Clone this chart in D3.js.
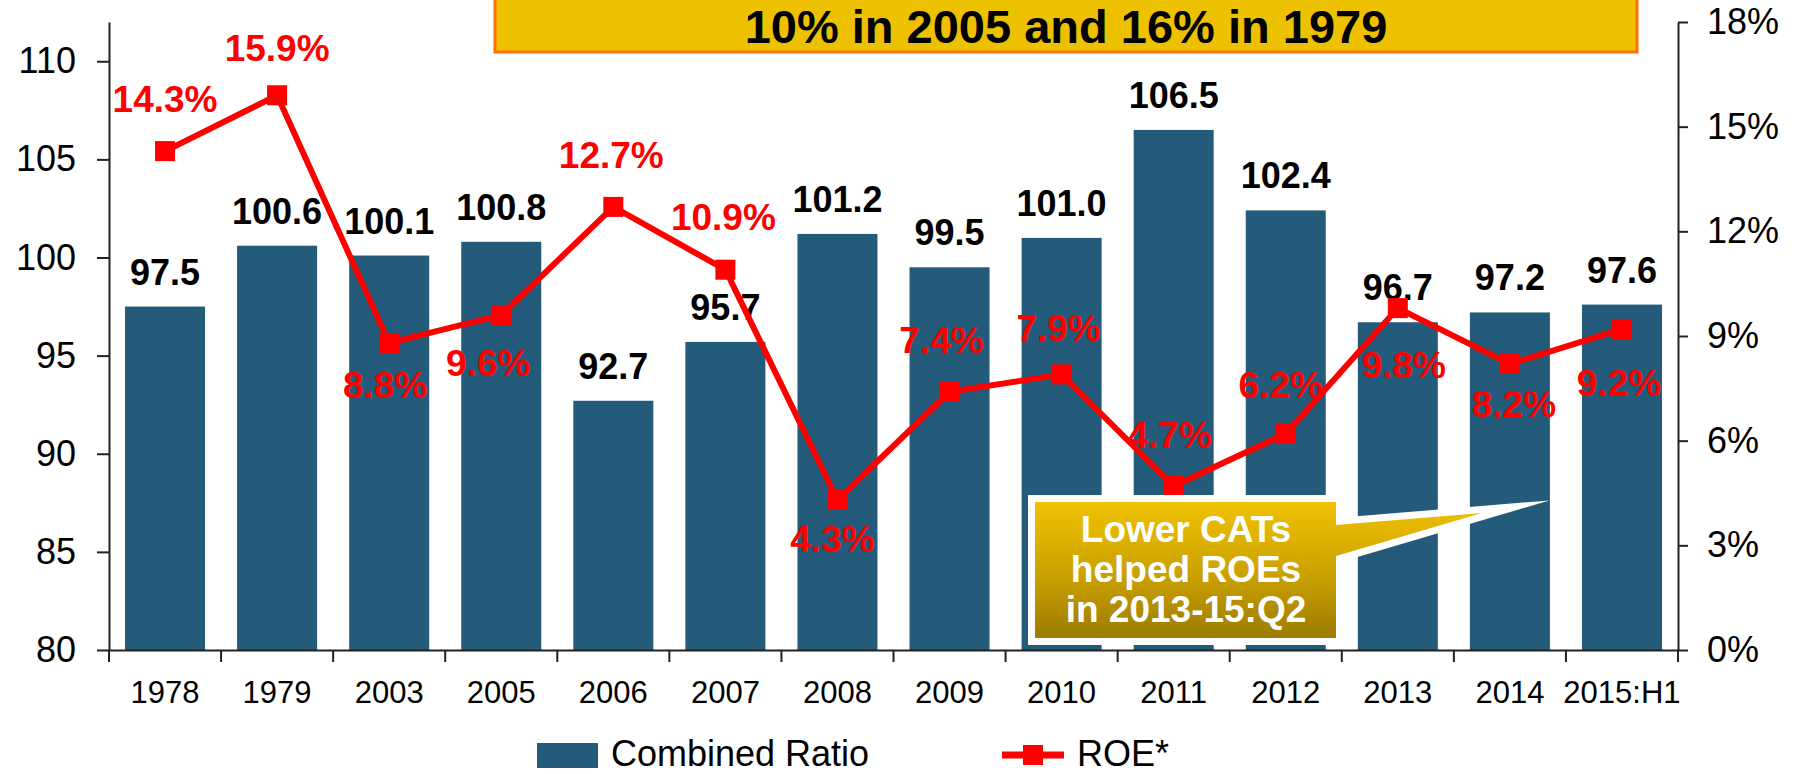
<!DOCTYPE html>
<html>
<head>
<meta charset="utf-8">
<script src="https://cdn.jsdelivr.net/npm/d3@7/dist/d3.min.js"></script>
<style>
  html, body { margin: 0; padding: 0; background: #ffffff; }
  svg { display: block; font-family: "Liberation Sans", Arial, Helvetica, sans-serif; }
</style>
</head>
<body>
<svg id="chart" width="1800" height="774"></svg>
<script>
// ---- Data ----
const categories = ["1978","1979","2003","2005","2006","2007","2008","2009","2010","2011","2012","2013","2014","2015:H1"];
const combinedRatio = [97.5,100.6,100.1,100.8,92.7,95.7,101.2,99.5,101.0,106.5,102.4,96.7,97.2,97.6];
const roe = [14.3,15.9,8.8,9.6,12.7,10.9,4.3,7.4,7.9,4.7,6.2,9.8,8.2,9.2];
const leftTicks = [80,85,90,95,100,105,110];
const rightTicks = [0,3,6,9,12,15,18];
const headline = "10% in 2005 and 16% in 1979";
const calloutLines = ["Lower CATs","helped ROEs","in 2013-15:Q2"];
const legendLabels = ["Combined Ratio","ROE*"];

// label placement for ROE values (offset of label centre from point)
const roeLabelDy = [-52,-48,42,48,-52,-53,39,-52,-47,-51,-49,57,40,54];
const roeLabelDx = [0,0,-4,-13,-2,-2,-5,-8,-3,-4,-5,6,4,-3];

// ---- Styles ----
const barColor = "#245B7A";
const red = "#FF0000";

const svg = d3.select("#chart");

const mLeft = 109, mRight = 1678, mTop = 22, mBottom = 650;

const x = d3.scaleBand().domain(categories).range([mLeft, mRight])
  .paddingInner(0.286).paddingOuter(0.143);
const yL = d3.scaleLinear().domain([80,112]).range([mBottom, mTop]);
const yR = d3.scaleLinear().domain([0,18]).range([mBottom, mTop]);

// Bars
svg.append("g").selectAll("rect").data(categories).join("rect")
  .attr("x", d => x(d))
  .attr("y", (d,i) => yL(combinedRatio[i]))
  .attr("width", x.bandwidth())
  .attr("height", (d,i) => yL(80) - yL(combinedRatio[i]))
  .attr("fill", barColor);

// Bar labels
svg.append("g").selectAll("text").data(categories).join("text")
  .attr("x", d => x(d) + x.bandwidth()/2)
  .attr("y", (d,i) => yL(combinedRatio[i]) - 22)
  .attr("text-anchor", "middle")
  .attr("font-size", 36).attr("font-weight", "bold").attr("fill", "#000")
  .text((d,i) => combinedRatio[i].toFixed(1));

// Axes
const axisColor = "#222";
const gL = svg.append("g").attr("transform", `translate(${mLeft},0)`)
  .call(d3.axisLeft(yL).tickValues(leftTicks).tickSize(12).tickPadding(21).tickSizeOuter(0));
const gR = svg.append("g").attr("transform", `translate(${mRight},0)`)
  .call(d3.axisRight(yR).tickValues(rightTicks).tickFormat(d => d + "%").tickSize(10).tickPadding(19).tickSizeOuter(0));
const gX = svg.append("g").attr("transform", `translate(0,${mBottom})`)
  .call(d3.axisBottom(x).tickSize(0).tickPadding(31).tickSizeOuter(0));

[gL, gR, gX].forEach(g => {
  g.selectAll("path.domain").attr("stroke", axisColor).attr("stroke-width", 2);
  g.selectAll(".tick line").attr("stroke", axisColor).attr("stroke-width", 2);
  g.selectAll(".tick text").attr("fill", "#000").attr("font-family", "'Liberation Sans', Arial, sans-serif");
});
gL.selectAll(".tick text").attr("font-size", 36);
gR.selectAll(".tick text").attr("font-size", 36);
gX.selectAll(".tick text").attr("font-size", 31);

// x boundary ticks
const step = x.step();
const boundaries = d3.range(categories.length + 1).map(k => mLeft + k * step);
svg.append("g").selectAll("line").data(boundaries).join("line")
  .attr("x1", d => d).attr("x2", d => d)
  .attr("y1", mBottom).attr("y2", mBottom + 12)
  .attr("stroke", axisColor).attr("stroke-width", 2);

// ROE line
const cx = d => x(d) + x.bandwidth()/2;
const line = d3.line().x((d,i) => cx(categories[i])).y(d => yR(d));
svg.append("path").datum(roe).attr("d", line)
  .attr("fill", "none").attr("stroke", red).attr("stroke-width", 6)
  .attr("stroke-linejoin", "miter");

const ms = 20;
svg.append("g").selectAll("rect").data(roe).join("rect")
  .attr("x", (d,i) => cx(categories[i]) - ms/2)
  .attr("y", d => yR(d) - ms/2)
  .attr("width", ms).attr("height", ms)
  .attr("fill", red);

// ROE labels
svg.append("g").selectAll("text").data(roe).join("text")
  .attr("x", (d,i) => cx(categories[i]) + roeLabelDx[i])
  .attr("y", (d,i) => yR(d) + roeLabelDy[i])
  .attr("dy", "0.36em")
  .attr("text-anchor", "middle")
  .attr("font-size", 37).attr("font-weight", "bold").attr("fill", red)
  .text(d => d.toFixed(1) + "%");

// Callout
const defs = svg.append("defs");
const grad = defs.append("linearGradient").attr("id", "gold")
  .attr("x1", 0).attr("y1", 0).attr("x2", 0).attr("y2", 1);
grad.append("stop").attr("offset", "0%").attr("stop-color", "#F0C200");
grad.append("stop").attr("offset", "55%").attr("stop-color", "#C9A000");
grad.append("stop").attr("offset", "100%").attr("stop-color", "#9C7B00");

const cb = {x0: 1035, y0: 502, x1: 1336, y1: 638};
const ptr = "M" + cb.x0 + "," + cb.y0 + " L" + cb.x1 + "," + cb.y0 +
  " L" + cb.x1 + ",525 L1482,513 L" + cb.x1 + ",556 L" + cb.x1 + "," + cb.y1 +
  " L" + cb.x0 + "," + cb.y1 + " Z";
svg.append("path").attr("d", ptr)
  .attr("fill", "url(#gold)").attr("stroke", "#fff").attr("stroke-width", 14)
  .attr("stroke-linejoin", "miter").attr("stroke-miterlimit", 20)
  .attr("paint-order", "stroke");
svg.append("g").selectAll("text").data(calloutLines).join("text")
  .attr("x", 1186).attr("y", (d,i) => 542 + i*40)
  .attr("text-anchor", "middle").attr("font-size", 37).attr("font-weight", "bold")
  .attr("fill", "#fff").text(d => d);

// Headline box
svg.append("rect").attr("x", 495).attr("y", -6).attr("width", 1142).attr("height", 58)
  .attr("fill", "#EDC000").attr("stroke", "#FF7200").attr("stroke-width", 3);
svg.append("text").attr("x", 1066).attr("y", 43).attr("text-anchor", "middle")
  .attr("font-size", 47).attr("font-weight", "bold").attr("fill", "#000").text(headline);

// Legend
svg.append("rect").attr("x", 537).attr("y", 743).attr("width", 61).attr("height", 25).attr("fill", barColor);
svg.append("text").attr("x", 611).attr("y", 766).attr("font-size", 36).attr("fill", "#000").text(legendLabels[0]);
svg.append("line").attr("x1", 1002).attr("x2", 1064).attr("y1", 755).attr("y2", 755)
  .attr("stroke", red).attr("stroke-width", 7);
svg.append("rect").attr("x", 1033 - 10).attr("y", 755 - 10).attr("width", 20).attr("height", 20).attr("fill", red);
svg.append("text").attr("x", 1077).attr("y", 766).attr("font-size", 36).attr("fill", "#000").text(legendLabels[1]);
</script>
</body>
</html>
